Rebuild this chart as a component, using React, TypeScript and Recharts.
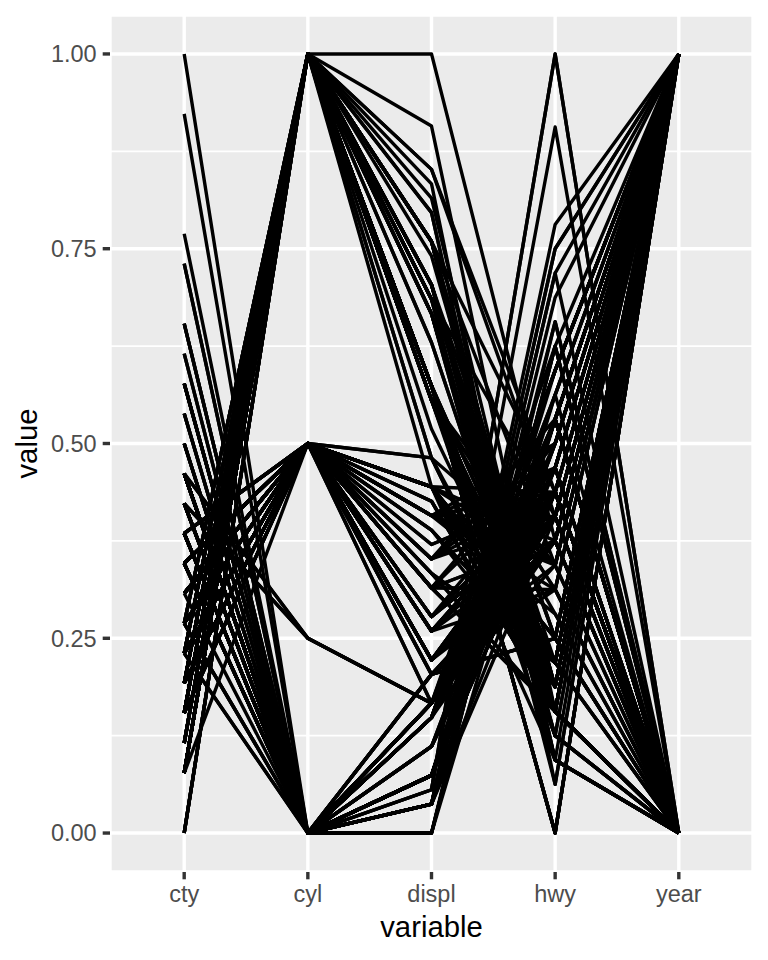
import { LineChart, Line, XAxis, YAxis, CartesianGrid } from "recharts";

// mpg: one entry per car, in dataset order
const cty = [
  18, 21, 20, 21, 16, 18, 18, 18, 16, 20, 19, 15, 17, 17, 15, 15, 17, 16, 14, 13,
  14, 13, 12, 16, 15, 16, 15, 15, 14, 11, 11, 14, 19, 22, 18, 18, 17, 18, 17, 16,
  16, 17, 17, 11, 15, 15, 16, 16, 15, 14, 13, 14, 14, 14, 9, 11, 11, 13, 13, 9,
  13, 11, 13, 11, 12, 9, 13, 13, 12, 9, 11, 11, 13, 11, 11, 11, 12, 14, 15, 14,
  13, 13, 13, 14, 14, 13, 13, 13, 11, 13, 18, 18, 17, 16, 15, 15, 15, 15, 14, 28,
  24, 25, 23, 24, 26, 25, 24, 21, 18, 18, 21, 21, 18, 18, 19, 19, 19, 20, 20, 17,
  16, 17, 17, 15, 15, 14, 9, 14, 13, 11, 11, 12, 12, 11, 11, 11, 12, 14, 13, 13,
  13, 21, 19, 23, 23, 19, 19, 18, 19, 19, 14, 15, 14, 12, 18, 16, 17, 18, 16, 18,
  18, 20, 19, 20, 18, 21, 19, 19, 19, 20, 20, 19, 20, 15, 16, 15, 15, 16, 14, 21,
  21, 21, 21, 18, 18, 19, 21, 21, 21, 22, 18, 18, 18, 24, 24, 26, 28, 26, 11, 13,
  15, 16, 17, 15, 15, 15, 16, 21, 19, 21, 22, 17, 33, 21, 19, 22, 21, 21, 21, 16,
  17, 35, 29, 21, 19, 20, 20, 21, 18, 19, 21, 16, 18, 17,
];

const cyl = [
  4, 4, 4, 4, 6, 6, 6, 4, 4, 4, 4, 6, 6, 6, 6, 6, 6, 8, 8, 8,
  8, 8, 8, 8, 8, 8, 8, 8, 8, 8, 8, 8, 4, 4, 6, 6, 6, 4, 6, 6,
  6, 6, 6, 6, 6, 6, 6, 6, 6, 6, 6, 6, 8, 8, 8, 8, 8, 6, 8, 8,
  8, 8, 8, 8, 8, 8, 8, 8, 8, 8, 8, 8, 8, 8, 8, 8, 8, 6, 6, 6,
  6, 8, 8, 6, 6, 8, 8, 8, 8, 8, 6, 6, 6, 6, 8, 8, 8, 8, 8, 4,
  4, 4, 4, 4, 4, 4, 4, 4, 4, 4, 4, 4, 6, 6, 6, 4, 4, 4, 4, 6,
  6, 6, 6, 6, 6, 8, 8, 8, 8, 8, 8, 8, 8, 8, 8, 8, 8, 6, 6, 8,
  8, 4, 4, 4, 4, 6, 6, 6, 6, 6, 6, 6, 6, 8, 6, 6, 6, 6, 8, 4,
  4, 4, 4, 4, 4, 4, 4, 4, 4, 4, 4, 4, 4, 4, 4, 6, 6, 6, 8, 4,
  4, 4, 4, 6, 6, 6, 4, 4, 4, 4, 6, 6, 6, 4, 4, 4, 4, 4, 8, 8,
  4, 4, 4, 6, 6, 6, 6, 4, 4, 4, 4, 6, 4, 4, 4, 4, 4, 5, 5, 6,
  6, 4, 4, 4, 4, 5, 5, 4, 4, 4, 4, 6, 6, 6,
];

const displ = [
  1.8, 1.8, 2.0, 2.0, 2.8, 2.8, 3.1, 1.8, 1.8, 2.0, 2.0, 2.8, 2.8, 3.1, 3.1, 2.8, 3.1, 4.2, 5.3, 5.3,
  5.3, 5.7, 6.0, 5.7, 5.7, 6.2, 6.2, 7.0, 5.3, 5.3, 5.7, 6.5, 2.4, 2.4, 3.1, 3.5, 3.6, 2.4, 3.0, 3.3,
  3.3, 3.3, 3.3, 3.3, 3.8, 3.8, 3.8, 4.0, 3.7, 3.7, 3.9, 3.9, 4.7, 4.7, 4.7, 5.2, 5.2, 3.9, 4.7, 4.7,
  4.7, 5.2, 5.7, 5.9, 4.7, 4.7, 4.7, 4.7, 4.7, 4.7, 5.2, 5.2, 5.7, 5.9, 4.6, 5.4, 5.4, 4.0, 4.0, 4.0,
  4.0, 4.6, 5.0, 4.2, 4.2, 4.6, 4.6, 4.6, 5.4, 5.4, 3.8, 3.8, 4.0, 4.0, 4.6, 4.6, 4.6, 4.6, 5.4, 1.6,
  1.6, 1.6, 1.6, 1.6, 1.8, 1.8, 1.8, 2.0, 2.4, 2.4, 2.4, 2.4, 2.5, 2.5, 3.3, 2.0, 2.0, 2.0, 2.0, 2.7,
  2.7, 2.7, 3.0, 3.7, 4.0, 4.7, 4.7, 4.7, 5.7, 6.1, 4.0, 4.2, 4.4, 4.6, 5.4, 5.4, 5.4, 4.0, 4.0, 4.6,
  5.0, 2.4, 2.4, 2.5, 2.5, 3.5, 3.5, 3.0, 3.0, 3.5, 3.3, 3.3, 4.0, 5.6, 3.1, 3.8, 3.8, 3.8, 5.3, 2.5,
  2.5, 2.5, 2.5, 2.5, 2.5, 2.2, 2.2, 2.5, 2.5, 2.5, 2.5, 2.5, 2.5, 2.7, 2.7, 3.4, 3.4, 4.0, 4.7, 2.2,
  2.2, 2.4, 2.4, 3.0, 3.0, 3.5, 2.2, 2.2, 2.4, 2.4, 3.0, 3.0, 3.3, 1.8, 1.8, 1.8, 1.8, 1.8, 4.7, 5.7,
  2.7, 2.7, 2.7, 3.4, 3.4, 4.0, 4.0, 2.0, 2.0, 2.0, 2.0, 2.8, 1.9, 2.0, 2.0, 2.0, 2.0, 2.5, 2.5, 2.8,
  2.8, 1.9, 1.9, 2.0, 2.0, 2.5, 2.5, 1.8, 1.8, 2.0, 2.0, 2.8, 2.8, 3.6,
];

const hwy = [
  29, 29, 31, 30, 26, 26, 27, 26, 25, 28, 27, 25, 25, 25, 25, 24, 25, 23, 20, 15,
  20, 17, 17, 26, 23, 26, 25, 24, 19, 14, 15, 17, 27, 30, 26, 29, 26, 24, 24, 22,
  22, 24, 24, 17, 22, 21, 23, 23, 19, 18, 17, 17, 19, 19, 12, 17, 15, 17, 17, 12,
  17, 16, 18, 15, 16, 12, 17, 17, 16, 12, 15, 16, 17, 15, 17, 17, 18, 17, 19, 17,
  19, 19, 17, 17, 17, 16, 16, 17, 15, 17, 26, 25, 26, 24, 21, 22, 23, 22, 20, 33,
  32, 32, 29, 32, 34, 36, 36, 29, 26, 27, 30, 31, 26, 26, 28, 26, 29, 28, 27, 24,
  24, 24, 22, 19, 20, 17, 12, 19, 18, 14, 15, 18, 18, 15, 17, 16, 18, 17, 19, 19,
  17, 29, 27, 31, 32, 27, 26, 26, 25, 25, 17, 17, 20, 18, 26, 26, 27, 28, 25, 25,
  24, 27, 25, 26, 23, 26, 26, 26, 26, 27, 25, 25, 27, 20, 20, 19, 17, 20, 17, 29,
  27, 31, 31, 26, 26, 28, 27, 29, 31, 31, 26, 26, 27, 30, 33, 35, 37, 35, 15, 18,
  20, 20, 22, 17, 19, 18, 20, 29, 26, 29, 29, 24, 44, 29, 26, 29, 29, 29, 29, 23,
  24, 44, 41, 29, 26, 28, 29, 29, 29, 28, 29, 26, 26, 26,
];

const year = [
  1999, 1999, 2008, 2008, 1999, 1999, 2008, 1999, 1999, 2008, 2008, 1999, 1999, 2008, 2008, 1999, 2008, 2008, 2008, 2008,
  2008, 1999, 2008, 1999, 1999, 2008, 2008, 2008, 2008, 2008, 1999, 1999, 1999, 2008, 1999, 2008, 2008, 1999, 1999, 1999,
  1999, 2008, 2008, 2008, 1999, 1999, 2008, 2008, 2008, 2008, 1999, 1999, 2008, 2008, 2008, 1999, 1999, 1999, 2008, 2008,
  2008, 1999, 2008, 1999, 2008, 2008, 2008, 2008, 2008, 2008, 1999, 1999, 2008, 1999, 1999, 1999, 2008, 1999, 1999, 1999,
  2008, 2008, 1999, 1999, 1999, 1999, 1999, 2008, 1999, 2008, 1999, 1999, 2008, 2008, 1999, 1999, 2008, 2008, 2008, 1999,
  1999, 1999, 1999, 1999, 2008, 2008, 2008, 2008, 1999, 1999, 2008, 2008, 1999, 1999, 2008, 1999, 1999, 2008, 2008, 2008,
  2008, 2008, 2008, 2008, 1999, 1999, 2008, 2008, 2008, 2008, 1999, 2008, 2008, 1999, 1999, 1999, 2008, 1999, 2008, 2008,
  1999, 1999, 1999, 2008, 2008, 2008, 2008, 1999, 1999, 2008, 1999, 1999, 2008, 2008, 1999, 1999, 1999, 2008, 2008, 1999,
  1999, 2008, 2008, 2008, 2008, 1999, 1999, 1999, 1999, 2008, 2008, 2008, 2008, 1999, 1999, 1999, 1999, 2008, 2008, 1999,
  1999, 2008, 2008, 1999, 1999, 2008, 1999, 1999, 2008, 2008, 1999, 1999, 2008, 1999, 1999, 1999, 2008, 2008, 1999, 2008,
  1999, 1999, 2008, 1999, 1999, 2008, 2008, 1999, 1999, 2008, 2008, 1999, 1999, 1999, 1999, 2008, 2008, 2008, 2008, 1999,
  1999, 1999, 1999, 1999, 1999, 2008, 2008, 1999, 1999, 2008, 2008, 1999, 1999, 2008,
];

const variables = ["cty", "cyl", "displ", "hwy", "year"];
const yTicks = [0, 0.25, 0.5, 0.75, 1];
const yMinor = [0.125, 0.375, 0.625, 0.875];

const FONT = '"Liberation Sans", Arial, Helvetica, sans-serif';

// ggparcoord-style: rescale each column to [0, 1]
const rescale = (arr: number[]) => {
  const lo = Math.min(...arr);
  const hi = Math.max(...arr);
  return arr.map((v) => (v - lo) / (hi - lo));
};

const columns = [cty, cyl, displ, hwy, year].map(rescale);

const data = variables.map((name, j) => {
  const row: Record<string, number | string> = { x: j + 1, name };
  columns[j].forEach((v, i) => {
    row[`r${i}`] = v;
  });
  return row;
});

const YTitle = (props: any) => {
  const vb = props.viewBox || { x: 0, y: 15, height: 857 };
  const x = vb.x + 37;
  const y = vb.y + vb.height / 2;
  return (
    <text x={x} y={y} transform={`rotate(-90 ${x} ${y})`} textAnchor="middle" fill="#000" fontSize={29.3} fontFamily={FONT}>
      value
    </text>
  );
};

export default function App() {
  return (
    <div style={{ position: "absolute", left: 0, top: 0, width: 768, height: 960, background: "#fff" }}>
      <LineChart width={768} height={960} data={data} margin={{ top: 15, right: 15, bottom: 8, left: 0 }} style={{ fontFamily: FONT }}>
        <CartesianGrid fill="#EBEBEB" stroke="#FFFFFF" strokeWidth={1.7} vertical={false} horizontalValues={yMinor} />
        <CartesianGrid stroke="#FFFFFF" strokeWidth={3.4} />
        <XAxis
          dataKey="x"
          type="number"
          domain={[0.4, 5.6]}
          ticks={[1, 2, 3, 4, 5]}
          allowDataOverflow
          tickFormatter={(v: number) => variables[v - 1]}
          height={80}
          axisLine={false}
          tickLine={{ stroke: "#333333", strokeWidth: 3.4 }}
          tickSize={7.3}
          tickMargin={6}
          tick={{ fill: "#4D4D4D", fontSize: 23.5, fontFamily: FONT }}
          label={{ value: "variable", position: "insideBottom", offset: 15, fill: "#000", fontSize: 29.3, fontFamily: FONT }}
        />
        <YAxis
          type="number"
          domain={[-0.05, 1.05]}
          ticks={yTicks}
          allowDataOverflow
          tickFormatter={(v: number) => v.toFixed(2)}
          width={110}
          axisLine={false}
          tickLine={{ stroke: "#333333", strokeWidth: 3.4 }}
          tickSize={7.3}
          tickMargin={6}
          tick={{ fill: "#4D4D4D", fontSize: 23.5, fontFamily: FONT }}
          label={<YTitle />}
        />
        {cty.map((_, i) => (
          <Line
            key={`r${i}`}
            type="linear"
            dataKey={`r${i}`}
            stroke="#000000"
            strokeWidth={3.4}
            strokeLinejoin="round"
            dot={false}
            activeDot={false}
            isAnimationActive={false}
          />
        ))}
      </LineChart>
    </div>
  );
}
